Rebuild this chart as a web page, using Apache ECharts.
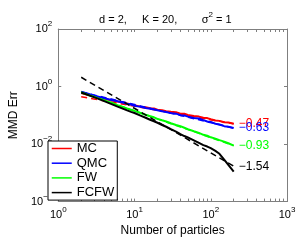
<!DOCTYPE html>
<html><head><meta charset="utf-8">
<script src="https://cdn.jsdelivr.net/npm/echarts@6/dist/echarts.min.js"></script>
<style>html,body{margin:0;padding:0;background:#fff}#c{width:299px;height:242px}</style>
</head><body><div id="c"></div>
<script>
const particles = [2,3,4,5,6,7,8,9,10,12,14,16,18,20,23,26,30,35,40,45,50,60,70,80,90,100,115,130,150,170,200];
const mcErr   = [0.60,0.45,0.37,0.33,0.30,0.28,0.256,0.24,0.226,0.20,0.19,0.176,0.172,0.156,0.151,0.139,0.132,0.128,0.114,0.113,0.103,0.094,0.09,0.082,0.08,0.073,0.066,0.064,0.057,0.056,0.051];
const qmcErr  = [0.66,0.48,0.39,0.34,0.31,0.28,0.252,0.236,0.215,0.196,0.18,0.17,0.158,0.15,0.137,0.131,0.119,0.114,0.101,0.099,0.09,0.081,0.077,0.068,0.061,0.059,0.051,0.048,0.042,0.04,0.036];
const fwErr   = [0.62,0.43,0.33,0.27,0.225,0.195,0.172,0.155,0.142,0.12,0.104,0.093,0.085,0.075,0.067,0.061,0.053,0.046,0.042,0.037,0.033,0.028,0.0245,0.021,0.0195,0.0172,0.0155,0.0137,0.0122,0.0107,0.0088];
const fcfwErr = [0.62,0.42,0.31,0.245,0.2,0.17,0.148,0.132,0.12,0.097,0.082,0.07,0.062,0.055,0.046,0.04,0.033,0.027,0.022,0.019,0.017,0.0135,0.011,0.0092,0.0082,0.0072,0.0058,0.0046,0.0029,0.0019,0.0011];
const fitN = [2, 200];
const mcFit   = [0.44, 0.051];
const qmcFit  = [0.65, 0.036];
const fwFit   = [0.64, 0.0088];
const fcfwFit = [2.1, 0.0017];
const slopeLabels = ['\u22120.47', '\u22120.63', '\u22120.93', '\u22121.54'];
const seriesNames = ['MC', 'QMC', 'FW', 'FCFW'];
const xMinorTicks = [1,2,3,4,5,6,7,8,9,10,20,30,40,50,60,70,80,90,100,200,300,400,500,600,700,800,900,1000];

const FONT = 'Liberation Sans, Arial, sans-serif';
const colors = ['#ff0000', '#0000ff', '#00ff00', '#000000'];
const solid = [mcErr, qmcErr, fwErr, fcfwErr];
const fits = [mcFit, qmcFit, fwFit, fcfwFit];

function powLabel(v) {
  const e = Math.round(Math.log10(v));
  return '{b|10}{s|' + (e < 0 ? '\u2212' + (-e) : e) + '}';
}
const labRich = {
  b: {fontSize: 11, fontFamily: FONT, color: '#000', lineHeight: 18},
  s: {fontSize: 8, fontFamily: FONT, color: '#000', verticalAlign: 'top', lineHeight: 18}
};
const AX = '#7f7f7f';

const series = [];
for (let k = 0; k < 4; k++) {
  series.push({
    name: seriesNames[k], type: 'line', symbol: 'none', showSymbol: false,
    xAxisIndex: 0, yAxisIndex: 0,
    data: particles.map((n, i) => [n, solid[k][i]]),
    lineStyle: {color: colors[k], width: 2}, itemStyle: {color: colors[k]},
    z: 2 + k * 2, animation: false
  });
  series.push({
    name: seriesNames[k] + ' fit', type: 'line', symbol: 'none', showSymbol: false,
    xAxisIndex: 0, yAxisIndex: 0,
    data: fitN.map((n, i) => [n, fits[k][i]]),
    endLabel: {show: true, distance: 5, formatter: slopeLabels[k],
      color: colors[k], fontSize: 12, fontFamily: FONT},
    lineStyle: {color: colors[k], width: 1.5, type: [6, 4]}, itemStyle: {color: colors[k]},
    z: 3 + k * 2, animation: false
  });
}

const chart = echarts.init(document.getElementById('c'), null, {renderer: 'canvas'});
chart.setOption({
  animation: false,
  backgroundColor: '#fff',
  title: {
    text: '{t|d = 2,     K = 20,        \u03c3}{u|2}{t| = 1}',
    left: 94, top: 6,
    textStyle: {fontWeight: 'normal', rich: {
      t: {fontSize: 11, fontFamily: FONT, color: '#000', fontWeight: 'normal', lineHeight: 18},
      u: {fontSize: 8, fontFamily: FONT, color: '#000', fontWeight: 'normal', verticalAlign: 'top', lineHeight: 18}
    }}
  },
  grid: {left: 44, right: 12, top: 29, bottom: 35, containLabel: false},
  legend: {
    data: seriesNames, orient: 'vertical', left: 48, top: 141,
    itemWidth: 20, itemHeight: 14, itemGap: 1.7,
    padding: [1, 3, 1, 3],
    borderColor: '#000', borderWidth: 1, backgroundColor: '#fff',
    itemStyle: {opacity: 0, borderWidth: 0},
    lineStyle: {width: 1.5},
    textStyle: {fontSize: 13, fontFamily: FONT, color: '#000'}
  },
  xAxis: [
    {type: 'log', logBase: 10, min: 1, max: 1000, position: 'bottom',
     name: 'Number of particles', nameLocation: 'middle', nameGap: 18,
     nameTextStyle: {fontSize: 12, fontFamily: FONT, color: '#000'},
     axisLine: {show: true, lineStyle: {color: AX, width: 1}},
     axisTick: {show: true, inside: true, length: 3, customValues: xMinorTicks, lineStyle: {color: AX}},
     axisLabel: {show: true, margin: 4, formatter: powLabel, rich: labRich},
     splitLine: {show: false}, minorTick: {show: false}},
    {type: 'log', logBase: 10, min: 1, max: 1000, position: 'top',
     axisLine: {show: true, lineStyle: {color: AX, width: 1}},
     axisTick: {show: true, inside: true, length: 3, customValues: xMinorTicks, lineStyle: {color: AX}},
     axisLabel: {show: false}, splitLine: {show: false}}
  ],
  yAxis: [
    {type: 'log', logBase: 100, min: 1e-4, max: 100, position: 'left',
     name: 'MMD Err', nameLocation: 'middle', nameGap: 27, nameRotate: 90,
     nameTextStyle: {fontSize: 12, fontFamily: FONT, color: '#000'},
     axisLine: {show: true, lineStyle: {color: AX, width: 1}},
     axisTick: {show: true, inside: true, length: 3, lineStyle: {color: AX}},
     axisLabel: {show: true, margin: 6, formatter: powLabel, rich: labRich},
     splitLine: {show: false}},
    {type: 'log', logBase: 100, min: 1e-4, max: 100, position: 'right',
     axisLine: {show: true, lineStyle: {color: AX, width: 1}},
     axisTick: {show: true, inside: true, length: 3, lineStyle: {color: AX}},
     axisLabel: {show: false}, splitLine: {show: false}}
  ],
  series: series
});
</script></body></html>
